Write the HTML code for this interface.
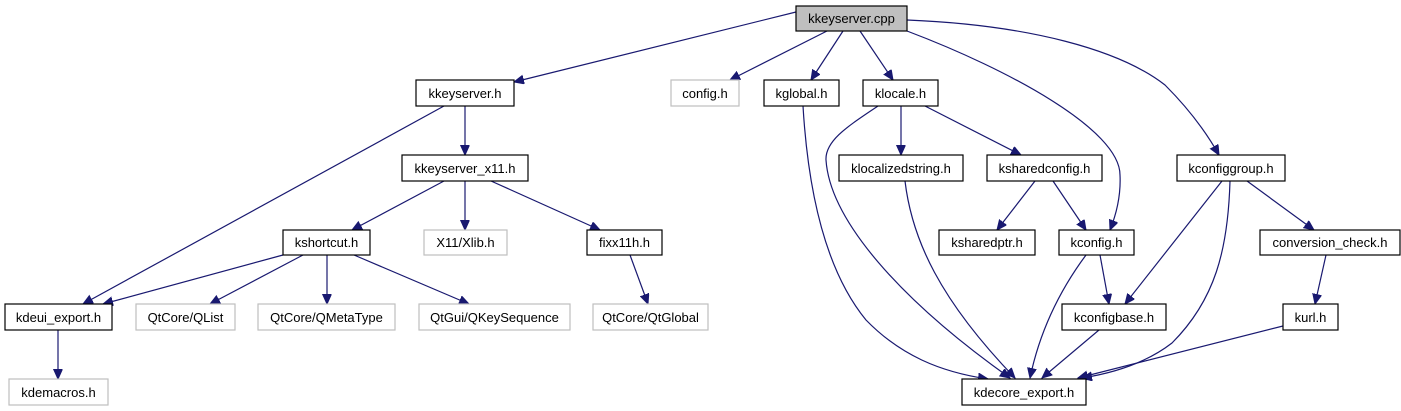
<!DOCTYPE html>
<html><head><meta charset="utf-8"><style>
html,body{margin:0;padding:0;background:#fff;}
svg{display:block;}
text{font-family:"Liberation Sans",Arial,sans-serif;font-size:13px;fill:#000;}
</style></head><body>
<svg width="1401" height="411" viewBox="0 0 1401 411" xmlns="http://www.w3.org/2000/svg">
<defs>
<marker id="a" markerUnits="userSpaceOnUse" markerWidth="12" markerHeight="10" refX="10" refY="4.5" orient="auto">
<path d="M0,0 L10,4.5 L0,9 Z" fill="#191970" stroke="#191970"/>
</marker>
</defs>
<g fill="none" stroke="#191970" stroke-width="1.2" marker-end="url(#a)">
<path d="M796,12 L514,82"/>
<path d="M827,31 L730,80"/>
<path d="M843,31 L811,80"/>
<path d="M860,31 L893,80"/>
<path d="M907,31 C1010,70 1120,130 1120,175 C1121,195 1116,215 1110,230"/>
<path d="M907,20 C1030,25 1120,50 1165,85 C1185,105 1205,130 1219,155"/>
<path d="M465,106 L465,155"/>
<path d="M444,106 L83,304"/>
<path d="M444,181 L352,230"/>
<path d="M465,181 L465,230"/>
<path d="M491,181 L600,230"/>
<path d="M283,255 L103,304"/>
<path d="M303,255 L210,304"/>
<path d="M327,255 L327,304"/>
<path d="M354,255 L469,304"/>
<path d="M630,255 L648,304"/>
<path d="M58,330 L58,379"/>
<path d="M803,106 C808,190 825,270 866,320 C900,355 940,372 988,379"/>
<path d="M878,106 C850,125 825,140 826,160 C830,220 900,300 1010,378"/>
<path d="M905,181 C912,240 940,300 1015,378"/>
<path d="M1086,255 C1060,290 1040,330 1030,378"/>
<path d="M1099,330 L1042,378"/>
<path d="M1230,181 C1228,250 1215,300 1172,343 C1150,360 1120,372 1082,378"/>
<path d="M1283,326 L1078,378"/>
<path d="M901,106 L901,155"/>
<path d="M925,106 L1021,155"/>
<path d="M1035,181 L997,230"/>
<path d="M1053,181 L1086,230"/>
<path d="M1100,255 L1109,304"/>
<path d="M1222,181 L1125,304"/>
<path d="M1247,181 L1314,230"/>
<path d="M1326,255 L1315,304"/>
</g>
<g stroke-width="1.2">
<rect x="796" y="6" width="111" height="25" fill="#bfbfbf" stroke="#000"/>
<rect x="416" y="80" width="98" height="26" fill="#fff" stroke="#000"/>
<rect x="671" y="80" width="68" height="26" fill="#fff" stroke="#bfbfbf"/>
<rect x="764" y="80" width="75" height="26" fill="#fff" stroke="#000"/>
<rect x="863" y="80" width="75" height="26" fill="#fff" stroke="#000"/>
<rect x="402" y="155" width="126" height="26" fill="#fff" stroke="#000"/>
<rect x="839" y="155" width="124" height="26" fill="#fff" stroke="#000"/>
<rect x="987" y="155" width="115" height="26" fill="#fff" stroke="#000"/>
<rect x="1177" y="155" width="108" height="26" fill="#fff" stroke="#000"/>
<rect x="283" y="230" width="87" height="25" fill="#fff" stroke="#000"/>
<rect x="424" y="230" width="83" height="25" fill="#fff" stroke="#bfbfbf"/>
<rect x="587" y="230" width="75" height="25" fill="#fff" stroke="#000"/>
<rect x="939" y="230" width="96" height="25" fill="#fff" stroke="#000"/>
<rect x="1059" y="230" width="75" height="25" fill="#fff" stroke="#000"/>
<rect x="1260" y="230" width="140" height="25" fill="#fff" stroke="#000"/>
<rect x="5" y="304" width="107" height="26" fill="#fff" stroke="#000"/>
<rect x="136" y="304" width="99" height="26" fill="#fff" stroke="#bfbfbf"/>
<rect x="258" y="304" width="137" height="26" fill="#fff" stroke="#bfbfbf"/>
<rect x="419" y="304" width="151" height="26" fill="#fff" stroke="#bfbfbf"/>
<rect x="593" y="304" width="115" height="26" fill="#fff" stroke="#bfbfbf"/>
<rect x="1062" y="304" width="104" height="26" fill="#fff" stroke="#000"/>
<rect x="1283" y="304" width="55" height="26" fill="#fff" stroke="#000"/>
<rect x="9" y="379" width="99" height="26" fill="#fff" stroke="#bfbfbf"/>
<rect x="962" y="379" width="124" height="26" fill="#fff" stroke="#000"/>
</g>
<g text-anchor="middle">
<text x="851.5" y="23">kkeyserver.cpp</text>
<text x="465" y="98">kkeyserver.h</text>
<text x="705" y="98">config.h</text>
<text x="801.5" y="98">kglobal.h</text>
<text x="900.5" y="98">klocale.h</text>
<text x="465" y="173">kkeyserver_x11.h</text>
<text x="901" y="173">klocalizedstring.h</text>
<text x="1044.5" y="173">ksharedconfig.h</text>
<text x="1231" y="173">kconfiggroup.h</text>
<text x="326.5" y="247">kshortcut.h</text>
<text x="465.5" y="247">X11/Xlib.h</text>
<text x="624.5" y="247">fixx11h.h</text>
<text x="987" y="247">ksharedptr.h</text>
<text x="1096.5" y="247">kconfig.h</text>
<text x="1330" y="247">conversion_check.h</text>
<text x="58.5" y="322">kdeui_export.h</text>
<text x="185.5" y="322">QtCore/QList</text>
<text x="326.5" y="322">QtCore/QMetaType</text>
<text x="494.5" y="322">QtGui/QKeySequence</text>
<text x="650.5" y="322">QtCore/QtGlobal</text>
<text x="1114" y="322">kconfigbase.h</text>
<text x="1310.5" y="322">kurl.h</text>
<text x="58.5" y="397">kdemacros.h</text>
<text x="1024" y="397">kdecore_export.h</text>
</g>
</svg>
</body></html>
